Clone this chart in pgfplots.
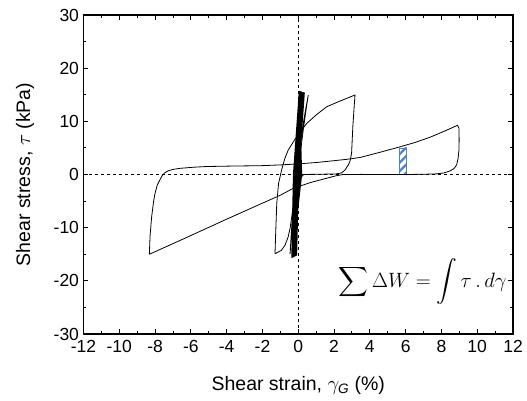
\documentclass[border=0pt]{standalone}
\usepackage{amsmath}
\usepackage{pgfplots}
\pgfplotsset{compat=1.18}
\usepackage{fontspec}
\setmainfont{Liberation Sans}
\usetikzlibrary{patterns.meta}
\definecolor{hatchblue}{RGB}{79,129,199}

\begin{document}
\begin{tikzpicture}
\begin{axis}[
  width=429.5pt, height=319pt, scale only axis,
  xmin=-12, xmax=12, ymin=-30, ymax=30,
  xtick={-12,-10,...,12}, ytick={-30,-20,...,30},
  minor x tick num=1, minor y tick num=1,
  tick align=inside,
  major tick length=5pt, minor tick length=3pt,
  axis line style={line width=1.1pt},
  every tick/.style={black, line width=0.9pt},
  tick label style={font=\fontsize{17.5}{20}\selectfont},
  xticklabel style={yshift=-3pt},
  yticklabel style={xshift=-1pt},
  /pgf/number format/assume math mode=true,
  xlabel={Shear strain, $\gamma_{\textit{G}}$ (\%)},
  ylabel={Shear stress, $\tau$ (kPa)},
  label style={font=\fontsize{19.5}{22}\selectfont},
  xlabel style={at={(axis description cs:0.5,-0.16)}, anchor=center},
  ylabel style={at={(axis description cs:-0.136,0.5)}, anchor=center},
  clip=false,
]
% reference dashed axes
\addplot[black, dashed, line width=0.6pt] coordinates {(0,-30) (0,30)};
\addplot[black, dashed, line width=0.6pt] coordinates {(-12,0) (12,0)};

% hatched area element
\addplot[draw=hatchblue, line width=0.8pt, pattern={Lines[angle=45, distance=6pt, line width=2.4pt]}, pattern color=hatchblue]
  coordinates {(5.65,0) (6.05,0) (6.05,5.0) (5.65,5.0) (5.65,0)};

% large loop
\addplot[black, line width=0.8pt] coordinates {
(-8.32,-15.0) (-8.28,-11.5) (-8.19,-7.9) (-8.08,-5.0) (-8.0,-3.5) (-7.88,-2.0)
(-7.73,-1.0) (-7.6,-0.2) (-7.45,0.34) (-7.25,0.72) (-6.98,0.97) (-6.6,1.16)
(-5.8,1.38) (-5.12,1.5) (-3.5,1.6) (-2.14,1.65) (-1.0,1.8) (0,2.0) (1.0,2.25)
(2.0,2.6) (2.7,2.85) (3.45,3.2) (4.56,4.17) (5.68,5.2) (6.5,6.0) (7.36,7.0)
(8.2,8.2) (8.9,9.25) (8.98,8.7) (8.99,6.5) (8.98,4.6) (8.93,3.0) (8.85,1.8)
(8.7,1.1) (8.47,0.65) (8.15,0.3) (7.73,0.12) (7.0,0.04) (6.0,0.0) (4.5,0.0)
(3.5,0.02) (2.5,0.0) (2.1,-0.25) (1.59,-0.7) (0.7,-1.5) (-0.28,-2.6)
(-1.0,-3.9) (-2.14,-5.6) (-4.0,-8.4) (-6.6,-12.4) (-8.32,-15.0)
};

% medium loop
\addplot[black, line width=0.8pt] coordinates {
(-1.3,-14.9) (-1.25,-10) (-1.2,-5.4) (-1.1,-1.7) (-0.93,0.85) (-0.75,3.0)
(-0.56,4.6) (-0.3,6.0) (-0.09,7.1) (0.47,9.6) (1.0,11.2) (1.59,12.75)
(2.4,13.9) (3.17,14.95) (3.12,12.5) (3.05,9.0) (2.98,4.0) (2.9,2.6)
(2.8,1.8) (2.6,0.8) (2.42,0.3) (2.1,0.1) (1.2,0.05) (0.3,0.0) (0.05,-1.0)
(-0.2,-4.0) (-0.45,-10.0) (-0.56,-11.7) (-0.74,-13.3) (-0.95,-14.3) (-1.3,-14.9)
};

% thin loop
\addplot[black, line width=0.8pt] coordinates {
(-0.46,-15.0) (-0.35,-9) (-0.18,-2.3) (0.0,3.0) (0.2,8) (0.4,12) (0.56,14.95)
(0.45,12.5) (0.28,8.4) (0.0,0.85) (-0.2,-6) (-0.35,-11) (-0.46,-15.0)
};

% dense bundle of small-strain cycles
\addplot[black, line width=1.0pt] coordinates {
(-0.36,-15.7) (-0.27,0) (0.06,15.7) (0.19,0)
(-0.325,-15.64) (-0.24,0) (0.10,15.66) (0.165,0)
(-0.29,-15.58) (-0.21,0) (0.14,15.62) (0.14,0)
(-0.255,-15.52) (-0.18,0) (0.18,15.58) (0.115,0)
(-0.22,-15.46) (-0.15,0) (0.22,15.54) (0.09,0)
(-0.185,-15.4) (-0.12,0) (0.26,15.5) (0.065,0)
(-0.15,-15.34) (-0.09,0) (0.30,15.46) (0.04,0)
(-0.115,-15.28) (-0.06,0) (0.34,15.42) (0.015,0)
(-0.09,-15.2)
};

\node at (axis cs:6.95,-20.2) {\fontsize{20.5}{24}\selectfont $\displaystyle\sum \Delta W = \int \tau\,.\,d\gamma$};
\end{axis}
\pgfresetboundingbox
\path ([shift={(-83.5pt,-67pt)}]current axis.south west) rectangle ([shift={(14pt,15pt)}]current axis.north east);
\end{tikzpicture}
\end{document}
